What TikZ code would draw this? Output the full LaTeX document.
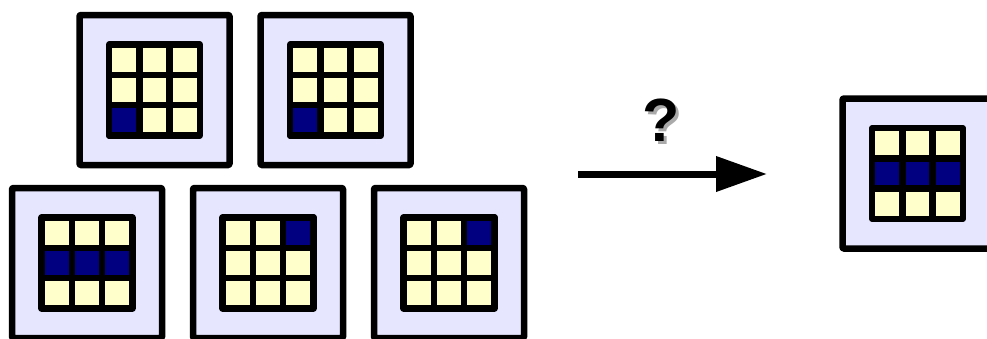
\documentclass[tikz,border=0pt]{standalone}
\usepackage{fontspec}
\setsansfont{Liberation Sans}
\usepackage{tikz}
\usetikzlibrary{%
	calc,%
	arrows.meta,%
	positioning,%
}
\tikzset{
	>={Triangle[length=51pt,width=34pt]},%
	card/.style={%
			draw,%
			rectangle,%
			line width=6.5pt,%
			line join=round,%
			rounded corners=1pt,%
			minimum size=150pt,%
			inner sep=0pt,%
			fill=cbluelight},%
	cell/.style={%
			draw,%
			rectangle,%
			line width=6.5pt,%
			line join=round,%
			minimum size=30.2pt,%
			inner sep=0pt,%
			fill=cyellowlight},%
	cellon/.style={%
			cell,%
			fill=cnavy},%
	qmark/.style={%
			inner sep=0pt,%
			font={\sffamily\bfseries\fontsize{61pt}{61pt}\selectfont}},%
}
\definecolor{cbluelight}{RGB}{230, 230, 255}
\definecolor{cyellowlight}{RGB}{255, 255, 204}
\definecolor{cnavy}{RGB}{0, 0, 128}
\definecolor{cshadow}{RGB}{170, 170, 170}
\newcommand{\tiles}[2]{%
	\foreach \r in {1,2,3} {%
		\foreach \c in {1,2,3} {%
			\node[cell] (#1-\r-\c) at ($(#1)+({(\c-2)*30.2},{(\r-2)*30.2})$) {};
		}
	}
	\foreach \r/\c in {#2} {%
		\node[cellon] (#1-\r-\c) at ($(#1)+({(\c-2)*30.2},{(\r-2)*30.2})$) {};
	}
}

\begin{document}
\begin{tikzpicture}[x=1pt, y=-1pt]%
	\useasboundingbox (0,0) rectangle (987,338);

	\node[card] (ta) at (154.5,90) {};
	\node[card] (tb) at (335.5,90) {};
	\node[card] (ba) at (87,263) {};
	\node[card] (bb) at (268,263) {};
	\node[card] (bc) at (449,263) {};
	\node[card] (res) at (917.5,173.5) {};

	\tiles{ta}{3/1}
	\tiles{tb}{3/1}
	\tiles{ba}{2/1,2/2,2/3}
	\tiles{bb}{1/3}
	\tiles{bc}{1/3}
	\tiles{res}{2/1,2/2,2/3}

	\coordinate (from) at (578,174);
	\coordinate (to) at (767,174);
	\draw[->, line width=7pt] (from) -- (to);

	\node[qmark, text=cshadow] (qs) at (664,123) {?};
	\node[qmark] (q) at (661,120) {?};
\end{tikzpicture}
\end{document}
